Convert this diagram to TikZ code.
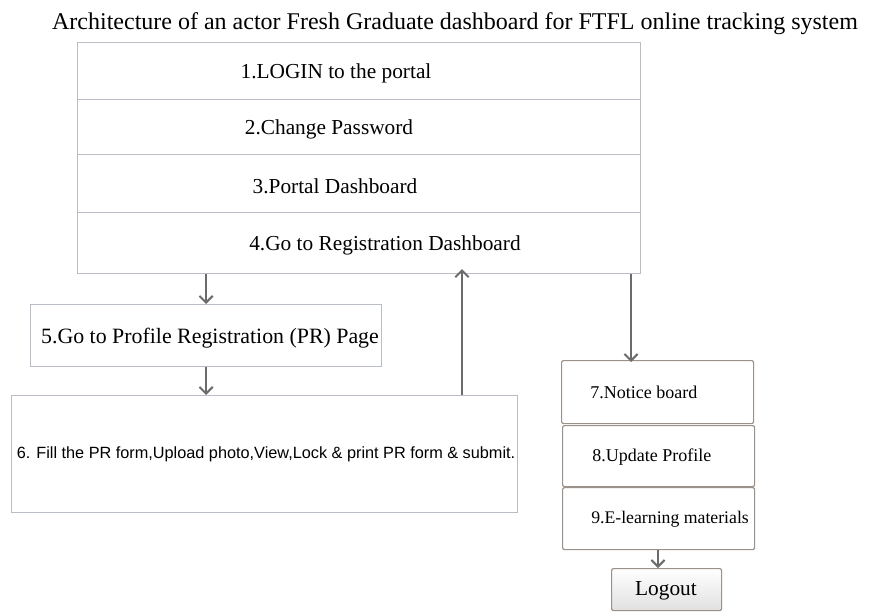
\documentclass[tikz,border=0pt]{standalone}
\usepackage{fontspec}
\setmainfont{Liberation Serif}
\newfontfamily\armfont{Liberation Sans}
\usetikzlibrary{arrows.meta}

\definecolor{boxline}{HTML}{B9BDC5}
\definecolor{cardline}{HTML}{9A928A}
\definecolor{arrline}{HTML}{6B6B6B}

\tikzset{
  panel/.style={draw=boxline, line width=0.8pt, inner sep=0pt, anchor=north west},
  card/.style={draw=cardline, line width=0.9pt, rounded corners=1.5pt, inner sep=0pt, anchor=north west},
  flow/.style={draw=arrline, line width=1.5pt, -{Straight Barb[length=5pt,width=10pt]}},
  txt/.style={inner sep=0pt},
}

\begin{document}
\begin{tikzpicture}[x=0.75pt,y=-0.75pt]
  \useasboundingbox (0,0) rectangle (895,615);

  \node[txt] (title) at (455,24) {\fontsize{18}{20}\selectfont Architecture of an actor Fresh Graduate dashboard for FTFL online tracking system};

  % top stack
  \node[panel, minimum width=422.25pt, minimum height=42.75pt] (login) at (77,42) {};
  \node[panel, minimum width=422.25pt, minimum height=41.25pt] (passwd) at (77,99) {};
  \node[panel, minimum width=422.25pt, minimum height=43.5pt] (portal) at (77,154) {};
  \node[panel, minimum width=422.25pt, minimum height=45.75pt] (regdash) at (77,212) {};
  \node[txt] (logintxt) at (336,73) {\fontsize{16}{18}\selectfont 1.LOGIN to the portal};
  \node[txt] (passwdtxt) at (329,129) {\fontsize{16}{18}\selectfont 2.Change Password};
  \node[txt] (portaltxt) at (335,186) {\fontsize{16}{18}\selectfont 3.Portal Dashboard};
  \node[txt] (regdashtxt) at (385,245) {\fontsize{16}{18}\selectfont 4.Go to Registration Dashboard};

  % left column
  \node[panel, minimum width=263.25pt, minimum height=46.5pt] (prpage) at (30,304) {};
  \node[txt] (prpagetxt) at (210,338) {\fontsize{16.4}{19}\selectfont 5.Go to Profile Registration (PR) Page};
  \node[panel, minimum width=379.5pt, minimum height=87.75pt] (prform) at (11,395) {};
  \node[txt] (prformtxt) at (266,454) {\armfont\fontsize{12.2}{14}\selectfont 6. Fill the PR form,Upload photo,View,Lock \& print PR form \& submit.};

  % right column
  \node[card, minimum width=144pt, minimum height=47.25pt] (notice) at (561,360) {};
  \node[card, minimum width=144pt, minimum height=45.75pt] (update) at (562,425) {};
  \node[card, minimum width=144pt, minimum height=46.5pt] (elearn) at (562,487) {};
  \node[txt, anchor=west] (noticetxt) at (590,392) {\fontsize{13.5}{15}\selectfont 7.Notice board};
  \node[txt, anchor=west] (updatetxt) at (592,457) {\fontsize{13.5}{15}\selectfont 8.Update Profile};
  \node[txt, anchor=west] (elearntxt) at (591,519) {\fontsize{13.3}{15}\selectfont 9.E-learning materials};
  \node[card, top color=white, bottom color=black!12, minimum width=82.5pt, minimum height=31.5pt] (logout) at (611,568) {};
  \node[txt] (logouttxt) at (666,591) {\fontsize{16}{18}\selectfont Logout};

  \coordinate (upx) at (462,0);
  \coordinate (downx) at (631,0);
  \coordinate (outx) at (658,0);

  \draw[flow] (regdash.south -| prpage.north) -- (prpage.north);
  \draw[flow] (prpage.south) -- (prpage.south |- prform.north);
  \draw[flow] (prform.north -| upx) -- ([yshift=3.75pt]regdash.south -| upx);
  \draw[flow] (regdash.south -| downx) -- ([yshift=-1.5pt]notice.north -| downx);
  \draw[flow] (elearn.south -| outx) -- (logout.north -| outx);
\end{tikzpicture}
\end{document}
